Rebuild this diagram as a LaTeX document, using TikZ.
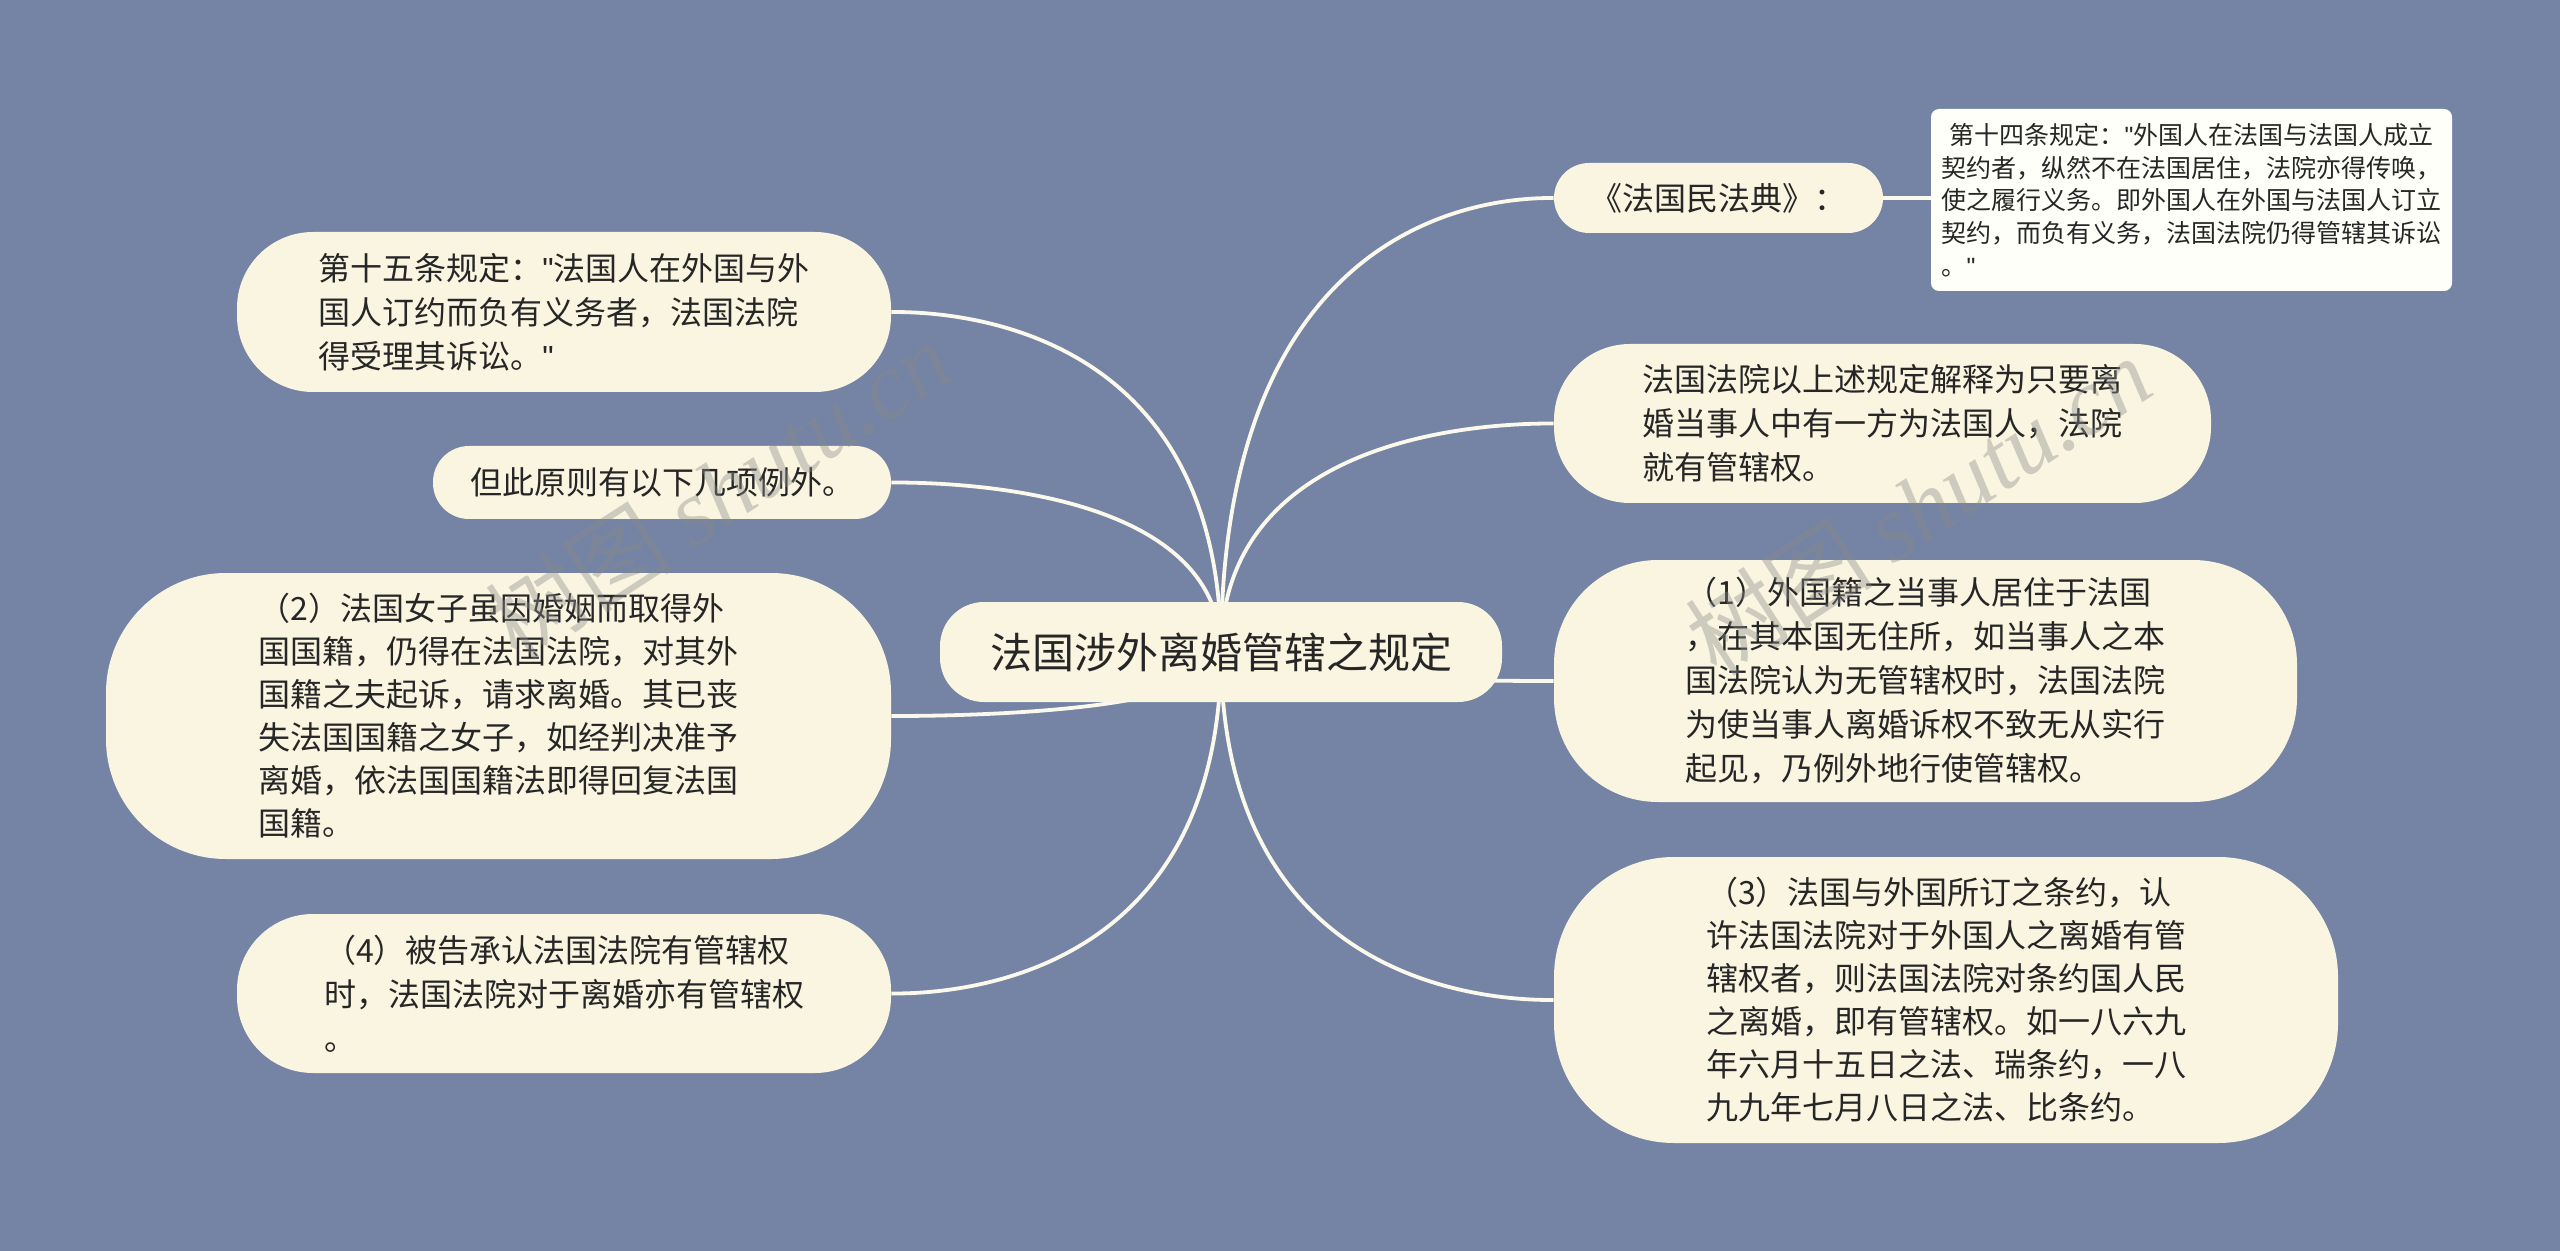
\documentclass[tikz,border=0pt]{standalone}
\usepackage{fontspec}
\setmainfont{Noto Sans CJK SC}
\newfontfamily\wmlatin{Liberation Serif}
\newfontfamily\qfont{Liberation Sans}
\newcommand\dq{{\qfont"}}
\usetikzlibrary{calc}
\definecolor{bgc}{HTML}{7584A4}
\definecolor{nodefill}{HTML}{FAF5E1}
\definecolor{boxfill}{HTML}{FFFFFA}
\definecolor{edgec}{HTML}{FBF8EC}
\definecolor{txt}{HTML}{262626}
\definecolor{wmc}{HTML}{8A8A8A}
\pgfdeclarelayer{back}
\pgfdeclarelayer{edges}
\pgfdeclarelayer{wm}
\pgfsetlayers{back,edges,main,wm}
\newcommand\mmedge[2]{\draw[edge] (#1.center) .. controls (#1.center |- #2) and ($(#1.center |- #2)!0.88!(#2)$) .. (#2);}
\tikzset{
  topic/.style={fill=nodefill, text=txt, align=left, inner sep=0pt,
    font=\fontsize{16pt}{22pt}\selectfont},
  rootnode/.style={topic, rounded corners=22pt, minimum width=281pt, minimum height=50pt,
    font=\fontsize{21pt}{26pt}\selectfont},
  notebox/.style={fill=boxfill, text=txt, align=left, inner sep=0pt, rounded corners=4pt,
    minimum width=260.5pt, minimum height=91pt, font=\fontsize{12.5pt}{16.3pt}\selectfont},
  edge/.style={draw=edgec, line width=1.9pt},
  wmark/.style={text=wmc, opacity=0.4, rotate=33, inner sep=0pt,
    font=\fontsize{47pt}{50pt}\selectfont},
}
\begin{document}
\begin{tikzpicture}[x=0.5pt, y=-0.5pt]
\useasboundingbox (0,0) rectangle (2560,1251);
\begin{pgfonlayer}{back}
  \fill[bgc] (0,0) rectangle (2560,1251);
\end{pgfonlayer}

% root
\node[rootnode] (root) at (1221,652) {法国涉外离婚管辖之规定};

% right side
\node[topic, rounded corners=17.5pt, minimum width=164.5pt, minimum height=35pt] (mfd) at (1718.5,198) {《法国民法典》：};
\node[notebox] (b14) at (2191.5,200) {\hspace*{4pt}第十四条规定：\dq 外国人在法国与法国人成立\\契约者，纵然不在法国居住，法院亦得传唤，\\使之履行义务。即外国人在外国与法国人订立\\契约，而负有义务，法国法院仍得管辖其诉讼\\。\dq};
\node[topic, rounded corners=38pt, minimum width=328.5pt, minimum height=79.5pt] (fy) at (1882.5,423.5) {法国法院以上述规定解释为只要离\\婚当事人中有一方为法国人，法院\\就有管辖权。};
\node[topic, rounded corners=52pt, minimum width=371.5pt, minimum height=121pt] (n1) at (1925.5,681) {（1）外国籍之当事人居住于法国\\，在其本国无住所，如当事人之本\\国法院认为无管辖权时，法国法院\\为使当事人离婚诉权不致无从实行\\起见，乃例外地行使管辖权。};
\node[topic, rounded corners=60pt, minimum width=392pt, minimum height=143pt,
  font=\fontsize{16pt}{21.5pt}\selectfont] (n3) at (1946,1000) {（3）法国与外国所订之条约，认\\许法国法院对于外国人之离婚有管\\辖权者，则法国法院对条约国人民\\之离婚，即有管辖权。如一八六九\\年六月十五日之法、瑞条约，一八\\九九年七月八日之法、比条约。};

% left side
\node[topic, rounded corners=38pt, minimum width=327pt, minimum height=80pt] (f15) at (564,312) {第十五条规定：\dq 法国人在外国与外\\国人订约而负有义务者，法国法院\\得受理其诉讼。\dq};
\node[topic, rounded corners=18pt, minimum width=229pt, minimum height=36.5pt] (ex) at (662,482.5) {但此原则有以下几项例外。};
\node[topic, rounded corners=60pt, minimum width=392.5pt, minimum height=143pt,
  font=\fontsize{16pt}{21.5pt}\selectfont] (n2) at (498.5,716) {（2）法国女子虽因婚姻而取得外\\国国籍，仍得在法国法院，对其外\\国籍之夫起诉，请求离婚。其已丧\\失法国国籍之女子，如经判决准予\\离婚，依法国国籍法即得回复法国\\国籍。};
\node[topic, rounded corners=38pt, minimum width=327pt, minimum height=79.5pt] (n4) at (564,993.5) {（4）被告承认法国法院有管辖权\\时，法国法院对于离婚亦有管辖权\\。};

\begin{pgfonlayer}{edges}
  \mmedge{root}{mfd.west}
  \mmedge{root}{fy.west}
  \mmedge{root}{n1.west}
  \mmedge{root}{n3.west}
  \mmedge{root}{f15.east}
  \mmedge{root}{ex.east}
  \mmedge{root}{n2.east}
  \mmedge{root}{n4.east}
  \draw[edge] (mfd.east) -- (mfd.east -| b14.west);
\end{pgfonlayer}

\begin{pgfonlayer}{wm}
  \node[wmark] (wm1) at (718,490) {树图 {\wmlatin\itshape shutu.cn}};
  \node[wmark] (wm2) at (1918,506) {树图 {\wmlatin\itshape shutu.cn}};
\end{pgfonlayer}
\end{tikzpicture}
\end{document}
